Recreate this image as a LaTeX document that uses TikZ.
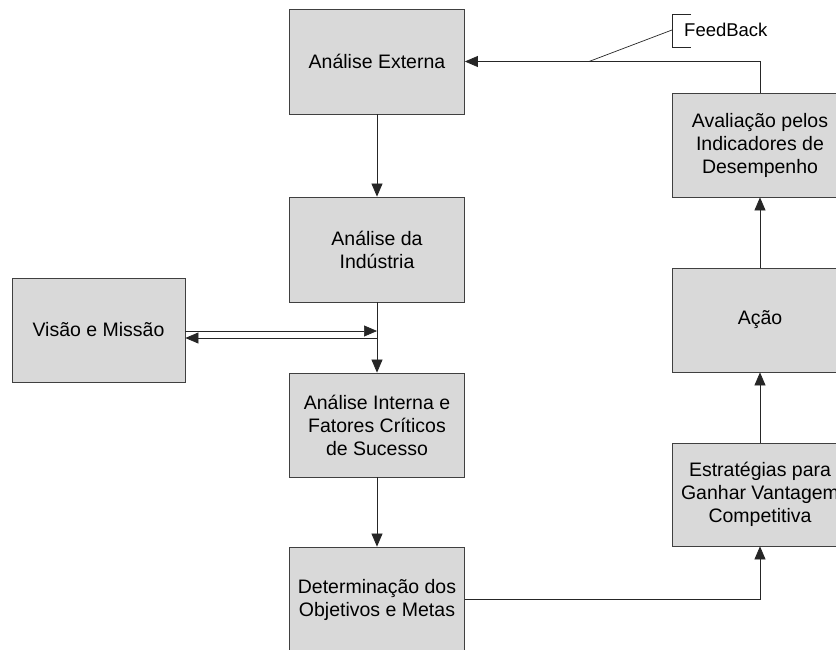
\documentclass[tikz,border=0pt]{standalone}
\usepackage{fontspec}
\setmainfont{Liberation Sans}
\usetikzlibrary{arrows.meta}
\definecolor{boxfill}{HTML}{D9D9D9}
\definecolor{boxline}{HTML}{404040}
\tikzset{
  box/.style={rectangle, fill=boxfill, draw=boxline, line width=0.8pt, align=center,
    font=\fontsize{19.5}{23}\selectfont, inner sep=2pt, minimum width=175pt, minimum height=105pt},
  arr/.style={-{Triangle[length=13pt,width=11pt]}, line width=0.7pt, draw=black!85},
  ln/.style={line width=0.7pt, draw=black!85}
}
\begin{document}
\begin{tikzpicture}[x=1pt,y=-1pt]
\useasboundingbox (0,0) rectangle (836,650);
\clip (0,0) rectangle (836,650);
\fill[white] (0,0) rectangle (836,650);
% boxes
\node[box] (ext) at (377,61.5) {Análise Externa};
\node[box] (ind) at (377,249.5) {Análise da\\Indústria};
\node[box, minimum width=173pt, minimum height=104pt] (vis) at (98.5,330) {Visão e Missão};
\node[box, minimum height=104pt] (int) at (377,425) {Análise Interna e\\Fatores Críticos\\de Sucesso};
\node[box, minimum height=106pt] (det) at (377,600) {Determinação dos\\Objetivos e Metas};
\node[box, minimum width=176pt, minimum height=104pt] (aval) at (760,145) {Avaliação pelos\\Indicadores de\\Desempenho};
\node[box, minimum width=176pt, minimum height=104pt] (acao) at (760,320) {Ação};
\node[box, minimum width=176pt, minimum height=103pt] (estr) at (760,494.5) {Estratégias para\\Ganhar Vantagem\\Competitiva};
% connectors
\draw[arr] (ext.south) -- (ind.north);
\draw[arr] (ind.south) -- (int.north);
\draw[arr] (int.south) -- (det.north);
\coordinate (j1) at (377,331);
\coordinate (j2) at (377,338);
\draw[arr] (vis.east|-j1) -- (j1);
\draw[arr] (j2) -- (vis.east|-j2);
\draw[arr] (det.east|-0,599) -| (estr.south);
\draw[arr] (estr.north) -- (acao.south);
\draw[arr] (acao.north) -- (aval.south);
\draw[arr] (aval.north) |- (ext.east);
% feedback callout
\coordinate (fb1) at (589,61.5);
\coordinate (fb2) at (672,30);
\coordinate (fbt) at (691,14);
\coordinate (fbb) at (691,47);
\draw[ln] (fb1) -- (fb2);
\draw[ln] (fbt) -- (fbt-|fb2) -- (fbb-|fb2) -- (fbb);
\node[anchor=west, font=\fontsize{18.5}{22}\selectfont, inner sep=0pt] (fbtxt) at (684,30) {FeedBack};
\end{tikzpicture}
\end{document}
